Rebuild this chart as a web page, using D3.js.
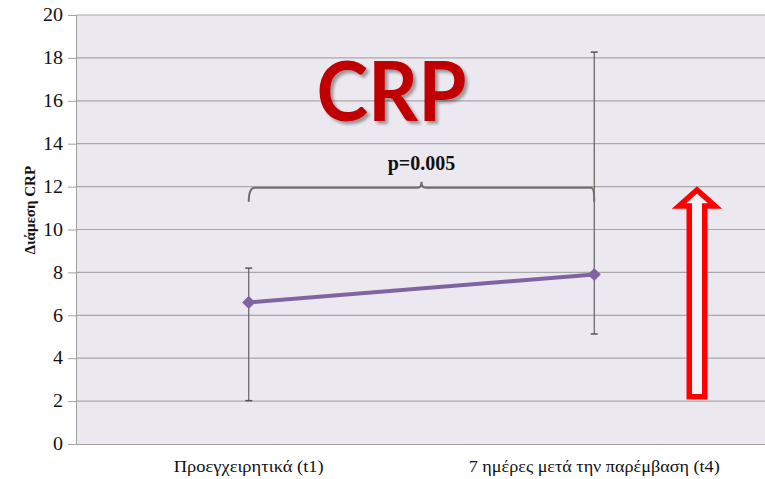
<!DOCTYPE html>
<html>
<head>
<meta charset="utf-8">
<script src="https://cdn.jsdelivr.net/npm/d3@7"></script>
<style>
  body { margin: 0; background: #fff; }
  svg { display: block; }
  .serif { font-family: "Liberation Serif", "Times New Roman", serif; }
</style>
</head>
<body>
<svg id="chart" width="765" height="479"></svg>
<script>
// data
var categories = ["Προεγχειρητικά (t1)", "7 ημέρες μετά την παρέμβαση (t4)"];
var medians = [6.6, 7.9];
var upper = [8.2, 18.27];
var lower = [2.02, 5.13];
var yTicks = [0, 2, 4, 6, 8, 10, 12, 14, 16, 18, 20];
var pLabel = "p=0.005";
var bracketLevel = 11.95;
var arrowRange = [2.2, 11.8];

var svg = d3.select("#chart");
var margin = { top: 15, right: -2, bottom: 35, left: 76 };
var width = 765 - margin.left - margin.right;
var height = 479 - margin.top - margin.bottom;

var x = d3.scaleBand().domain(categories).range([0, width]);
var y = d3.scaleLinear().domain([0, 20]).range([height, 0]);

var defs = svg.append("defs");
var shadow = defs.append("filter").attr("id", "shadow")
    .attr("x", "-20%").attr("y", "-20%").attr("width", "140%").attr("height", "140%");
shadow.append("feDropShadow").attr("dx", 3).attr("dy", 3).attr("stdDeviation", 1.8)
    .attr("flood-color", "#000").attr("flood-opacity", 0.35);

var g = svg.append("g").attr("transform", "translate(" + margin.left + "," + margin.top + ")");

// plot background
g.append("rect").attr("width", width).attr("height", height).attr("fill", "#ebe9ef");

// gridlines
g.selectAll(".grid").data(yTicks.filter(d => d > 0)).enter()
    .append("line")
    .attr("x1", 0).attr("x2", width)
    .attr("y1", d => y(d)).attr("y2", d => y(d))
    .attr("stroke", "#a8a8ac").attr("stroke-width", 1.2);

// y axis
var yAxis = g.append("g").call(d3.axisLeft(y).tickValues(yTicks).tickSize(8).tickPadding(5));
yAxis.attr("font-family", null).attr("font-size", null);
yAxis.select(".domain").attr("stroke", "#a0a0a0");
yAxis.selectAll(".tick line").attr("stroke", "#a0a0a0");
yAxis.selectAll("text").attr("class", "serif")
    .style("font-size", "18px").style("fill", "#111")
    .attr("textLength", d => d < 10 ? 10 : 20).attr("lengthAdjust", "spacingAndGlyphs");

// x axis
var labelWidths = [150, 251];
var xAxis = g.append("g").attr("transform", "translate(0," + height + ")")
    .call(d3.axisBottom(x).tickSize(0).tickPadding(16));
xAxis.attr("font-family", null).attr("font-size", null);
xAxis.select(".domain").attr("stroke", "#a0a0a0").attr("stroke-width", 1.2);
xAxis.selectAll("text").attr("class", "serif")
    .style("font-size", "16.5px").style("fill", "#111")
    .attr("textLength", (d, i) => labelWidths[i]).attr("lengthAdjust", "spacingAndGlyphs");

// axis title
svg.append("text")
    .attr("class", "serif")
    .attr("transform", "translate(35," + (margin.top + y(10.9)) + ") rotate(-90)")
    .attr("text-anchor", "middle")
    .style("font-weight", "bold").style("font-size", "15px").style("fill", "#111")
    .text("Διάμεση CRP");

var cx = d => x(d) + x.bandwidth() / 2;

// error bars
var eb = g.selectAll(".err").data(categories).enter().append("g").attr("class", "err");
eb.append("line")
    .attr("x1", d => cx(d)).attr("x2", d => cx(d))
    .attr("y1", (d, i) => y(upper[i])).attr("y2", (d, i) => y(lower[i]))
    .attr("stroke", "#555").attr("stroke-width", 1.1);
eb.append("line")
    .attr("x1", d => cx(d) - 3.5).attr("x2", d => cx(d) + 3.5)
    .attr("y1", (d, i) => y(upper[i])).attr("y2", (d, i) => y(upper[i]))
    .attr("stroke", "#555").attr("stroke-width", 1.5);
eb.append("line")
    .attr("x1", d => cx(d) - 3.5).attr("x2", d => cx(d) + 3.5)
    .attr("y1", (d, i) => y(lower[i])).attr("y2", (d, i) => y(lower[i]))
    .attr("stroke", "#555").attr("stroke-width", 1.5);

// median line
var line = d3.line().x((d, i) => cx(categories[i])).y(d => y(d));
g.append("path").datum(medians)
    .attr("d", line)
    .attr("fill", "none").attr("stroke", "#8064a2").attr("stroke-width", 4);

g.selectAll(".pt").data(medians).enter().append("path")
    .attr("d", d3.symbol().type(d3.symbolDiamond2).size(110))
    .attr("transform", (d, i) => "translate(" + cx(categories[i]) + "," + y(d) + ")")
    .attr("fill", "#8064a2");

// significance bracket
var bx0 = cx(categories[0]), bx1 = cx(categories[1]);
var by = y(bracketLevel), bm = (bx0 + bx1) / 2;
var bpath = d3.path();
bpath.moveTo(bx0, by + 14);
bpath.quadraticCurveTo(bx0, by, bx0 + 6, by);
bpath.lineTo(bm - 4, by);
bpath.quadraticCurveTo(bm, by, bm, by - 6);
bpath.quadraticCurveTo(bm, by, bm + 4, by);
bpath.lineTo(bx1 - 3, by);
bpath.quadraticCurveTo(bx1, by, bx1, by + 14);
g.append("path").attr("d", bpath.toString())
    .attr("fill", "none").attr("stroke", "#6f6f6f").attr("stroke-width", 2);

g.append("text")
    .attr("class", "serif")
    .attr("x", bm).attr("y", by - 18)
    .attr("text-anchor", "middle")
    .style("font-weight", "bold").style("font-size", "20px").style("fill", "#111")
    .text(pLabel);

// big title
g.append("text")
    .attr("x", bm - 30).attr("y", y(15.05))
    .attr("text-anchor", "middle")
    .attr("font-family", "Lato, 'Open Sans', sans-serif")
    .attr("font-weight", "bold").attr("font-size", 83)
    .attr("textLength", 150).attr("lengthAdjust", "spacingAndGlyphs")
    .attr("fill", "#c00000").attr("filter", "url(#shadow)")
    .text("CRP");

// red hollow arrow
var ax = 621, hw = 7.75, ww = 18;
var ay0 = y(arrowRange[0]), ay1 = y(arrowRange[1]);
var arrow = d3.path();
arrow.moveTo(ax - hw, ay0);
arrow.lineTo(ax - hw, ay1 + 15);
arrow.lineTo(ax - ww, ay1 + 15);
arrow.lineTo(ax, ay1 - 1);
arrow.lineTo(ax + ww, ay1 + 15);
arrow.lineTo(ax + hw, ay1 + 15);
arrow.lineTo(ax + hw, ay0);
arrow.closePath();
g.append("path").attr("d", arrow.toString())
    .attr("fill", "#f3f2f5").attr("stroke", "#ff0000").attr("stroke-width", 5.5)
    .attr("stroke-linejoin", "miter").attr("stroke-miterlimit", 3);
</script>
</body>
</html>
